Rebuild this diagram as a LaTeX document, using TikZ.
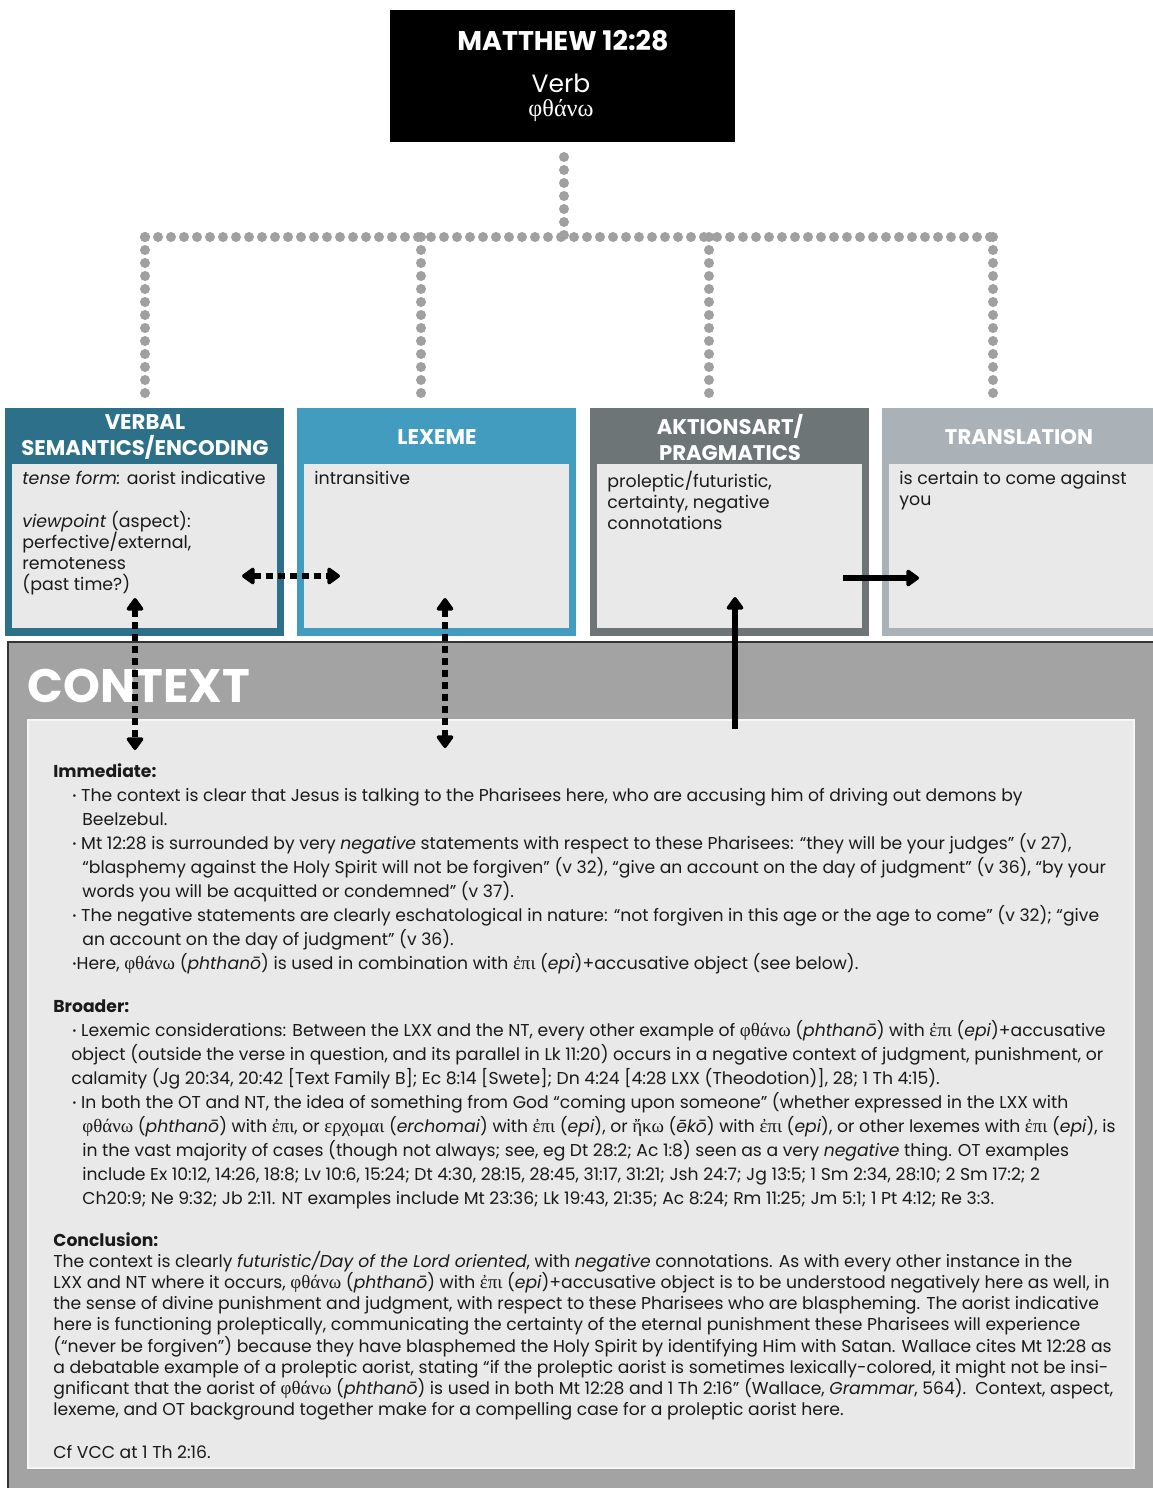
\documentclass[tikz,border=0pt]{standalone}
\usepackage{fontspec}
\setmainfont{Poppins}
\newfontfamily\grfont[Scale=1.1]{Liberation Serif}
\usetikzlibrary{arrows.meta}
\newcommand\gk[1]{{\grfont #1}}
\newcommand\bul{\raisebox{0.2ex}{\scalebox{0.6}{•}}}
\definecolor{semcol}{HTML}{2C7189}
\definecolor{lexcol}{HTML}{419CC0}
\definecolor{aktcol}{HTML}{6D7577}
\definecolor{trncol}{HTML}{AAB1B7}
\definecolor{panel}{HTML}{E9E9E9}
\definecolor{ctxcol}{HTML}{A3A3A3}
\definecolor{dotgray}{HTML}{A0A0A0}
\definecolor{ink}{HTML}{1A1A1A}
\begin{document}
\begin{tikzpicture}[x=0.5pt,y=-0.5pt,
  catbox/.style={minimum width=139.5pt, minimum height=114pt, inner sep=0pt},
  innerbox/.style={fill=panel, minimum width=132.5pt, minimum height=82pt, inner sep=0pt},
  head/.style={text=white, font=\fontsize{10.6}{13}\selectfont\bfseries, align=center},
  body/.style={text=ink, font=\fontsize{8.7}{10.5}\selectfont, align=left, anchor=north west, inner sep=0pt},
  ctxtxt/.style={text=ink, font=\fontsize{8.6}{12}\selectfont, align=left, anchor=north west, inner sep=0pt},
  dotline/.style={draw=dotgray, line width=5pt, line cap=round, dash pattern=on 0pt off 6.5pt},
  solidarrow/.style={black, line width=3pt, -{Triangle[width=9.5pt,length=7pt,round]}},
  dasharrow/.style={black, line width=3pt, dash pattern=on 3.5pt off 2.5pt,
    {Triangle[width=9.5pt,length=7pt,round]}-{Triangle[width=9.5pt,length=7pt,round]}}
]
\useasboundingbox (0,0) rectangle (1152,1488);
\fill[white] (0,0) rectangle (1152,1488);

% title block
\node[fill=black, minimum width=172.5pt, minimum height=66pt, inner sep=0pt] (top) at (562.5,76) {};
\node[text=white, font=\fontsize{13.5}{15}\selectfont\bfseries] (title) at (563,41) {MATTHEW 12:28};
\node[text=white, font=\fontsize{12.5}{14}\selectfont] (verb) at (561,83) {Verb};
\node[text=white, font=\grfont\fontsize{11}{14}\selectfont] (lemma) at (561,111) {φθάνω};

% category boxes
\node[catbox, fill=semcol] (sem) at (144.5,522) {};
\node[catbox, fill=lexcol] (lex) at (436.5,522) {};
\node[catbox, fill=aktcol] (akt) at (729.5,522) {};
\node[catbox, fill=trncol] (trn) at (1021.5,522) {};
\node[innerbox] (semin) at (144.5,546) {};
\node[innerbox] (lexin) at (436.5,546) {};
\node[innerbox] (aktin) at (729.5,546) {};
\node[innerbox] (trnin) at (1021.5,546) {};

\node[head] (semhd) at (145,437) {VERBAL\\SEMANTICS/ENCODING};
\node[head] (lexhd) at (437,437) {LEXEME};
\node[head] (akthd) at (730,437) {AKTIONSART/\\PRAGMATICS};
\node[head] (trnhd) at (1019,437) {TRANSLATION};

\node[body] (semtx) at (22,471) {\textit{tense form:} aorist indicative\\[11pt]
  \textit{viewpoint} (aspect):\\perfective/external,\\remoteness\\(past time?)};
\node[body] (lextx) at (314,471) {intransitive};
\node[body] (akttx) at (607,471) {proleptic/futuristic,\\certainty, negative\\connotations};
\node[body] (trntx) at (899,471) {is certain to come against\\you};

% dotted tree from the title block to the four categories
\coordinate (t0) at (564,157);
\coordinate (hub) at (564,237);
\coordinate (hl) at (145,237);
\coordinate (hr) at (993,237);
\coordinate (d1) at (145,398);
\coordinate (d2) at (421,398);
\coordinate (d3) at (709,398);
\coordinate (d4) at (993,398);
\coordinate (j2) at (421,237);
\coordinate (j3) at (709,237);
\draw[dotline] (t0) -- (hub);
\draw[dotline] (hl) -- (hr);
\draw[dotline] (hl) -- (d1);
\draw[dotline] (j2) -- (d2);
\draw[dotline] (j3) -- (d3);
\draw[dotline] (hr) -- (d4);

% context panel
\node[fill=ctxcol, draw=black!80, line width=1pt, minimum width=576pt, minimum height=427pt, inner sep=0pt] (ctx) at (584,1069) {};
\node[fill=panel, draw=white!60!panel, line width=0.6pt, minimum width=553pt, minimum height=374pt, inner sep=0pt] (ctxin) at (581,1094) {};
\node[text=white, font=\fontsize{23.5}{28}\selectfont\bfseries, anchor=base west, inner sep=0pt] (ctxhd) at (27,702) {CONTEXT};

\node[ctxtxt] (imm) at (53,763) {\textbf{Immediate:}\\
\hspace*{9.5pt}\bul\ The context is clear that Jesus is talking to the Pharisees here, who are accusing him of driving out demons by\\
\hspace*{14.5pt}Beelzebul.\\
\hspace*{9.5pt}\bul\ Mt 12:28 is surrounded by very \textit{negative} statements with respect to these Pharisees: “they will be your judges” (v 27),\\
\hspace*{14.5pt}“blasphemy against the Holy Spirit will not be forgiven” (v 32), “give an account on the day of judgment” (v 36), “by your\\
\hspace*{14.5pt}words you will be acquitted or condemned” (v 37).\\
\hspace*{9.5pt}\bul\ The negative statements are clearly eschatological in nature: “not forgiven in this age or the age to come” (v 32); “give\\
\hspace*{14.5pt}an account on the day of judgment” (v 36).\\
\hspace*{9.5pt}\bul Here, \gk{φθάνω} (\textit{phthanō}) is used in combination with \gk{ἐπι} (\textit{epi})+accusative object (see below).};

\node[ctxtxt] (brd) at (53,999) {\textbf{Broader:}\\
\hspace*{9.5pt}\bul\ Lexemic considerations: Between the LXX and the NT, every other example of \gk{φθάνω} (\textit{phthanō}) with \gk{ἐπι} (\textit{epi})+accusative\\
\hspace*{9pt}object (outside the verse in question, and its parallel in Lk 11:20) occurs in a negative context of judgment, punishment, or\\
\hspace*{9pt}calamity (Jg 20:34, 20:42 [Text Family B]; Ec 8:14 [Swete]; Dn 4:24 [4:28 LXX (Theodotion)], 28; 1 Th 4:15).\\
\hspace*{9.5pt}\bul\ In both the OT and NT, the idea of something from God “coming upon someone” (whether expressed in the LXX with\\
\hspace*{14.5pt}\gk{φθάνω} (\textit{phthanō}) with \gk{ἐπι}, or \gk{ερχομαι} (\textit{erchomai}) with \gk{ἐπι} (\textit{epi}), or \gk{ἤκω} (\textit{ēkō}) with \gk{ἐπι} (\textit{epi}), or other lexemes with \gk{ἐπι} (\textit{epi}), is\\
\hspace*{14.5pt}in the vast majority of cases (though not always; see, eg Dt 28:2; Ac 1:8) seen as a very \textit{negative} thing. OT examples\\
\hspace*{14.5pt}include Ex 10:12, 14:26, 18:8; Lv 10:6, 15:24; Dt 4:30, 28:15, 28:45, 31:17, 31:21; Jsh 24:7; Jg 13:5; 1 Sm 2:34, 28:10; 2 Sm 17:2; 2\\
\hspace*{14.5pt}Ch20:9; Ne 9:32; Jb 2:11. NT examples include Mt 23:36; Lk 19:43, 21:35; Ac 8:24; Rm 11:25; Jm 5:1; 1 Pt 4:12; Re 3:3.};

\node[ctxtxt, font=\fontsize{8.6}{10.6}\selectfont] (conc) at (53,1232) {\textbf{Conclusion:}\\
The context is clearly \textit{futuristic/Day of the Lord oriented}, with \textit{negative} connotations. As with every other instance in the\\
LXX and NT where it occurs, \gk{φθάνω} (\textit{phthanō}) with \gk{ἐπι} (\textit{epi})+accusative object is to be understood negatively here as well, in\\
the sense of divine punishment and judgment, with respect to these Pharisees who are blaspheming. The aorist indicative\\
here is functioning proleptically, communicating the certainty of the eternal punishment these Pharisees will experience\\
(“never be forgiven”) because they have blasphemed the Holy Spirit by identifying Him with Satan. Wallace cites Mt 12:28 as\\
a debatable example of a proleptic aorist, stating “if the proleptic aorist is sometimes lexically-colored, it might not be insi-\\
gnificant that the aorist of \gk{φθάνω} (\textit{phthanō}) is used in both Mt 12:28 and 1 Th 2:16” (Wallace, \textit{Grammar}, 564).\ \ Context, aspect,\\
lexeme, and OT background together make for a compelling case for a proleptic aorist here.\\[10.6pt]
Cf VCC at 1 Th 2:16.};

% links between categories and context
\coordinate (hA) at (242,576);
\coordinate (hB) at (340,576);
\coordinate (vA1) at (135,598);
\coordinate (vA2) at (135,750);
\coordinate (vB1) at (445,598);
\coordinate (vB2) at (445,748);
\coordinate (up0) at (735,729);
\coordinate (up1) at (735,597);
\coordinate (rt0) at (843,578);
\coordinate (rt1) at (919,578);
\draw[dasharrow] (hA) -- (hB);
\draw[dasharrow] (vA1) -- (vA2);
\draw[dasharrow] (vB1) -- (vB2);
\draw[solidarrow] (up0) -- (up1);
\draw[solidarrow] (rt0) -- (rt1);
\end{tikzpicture}
\end{document}
